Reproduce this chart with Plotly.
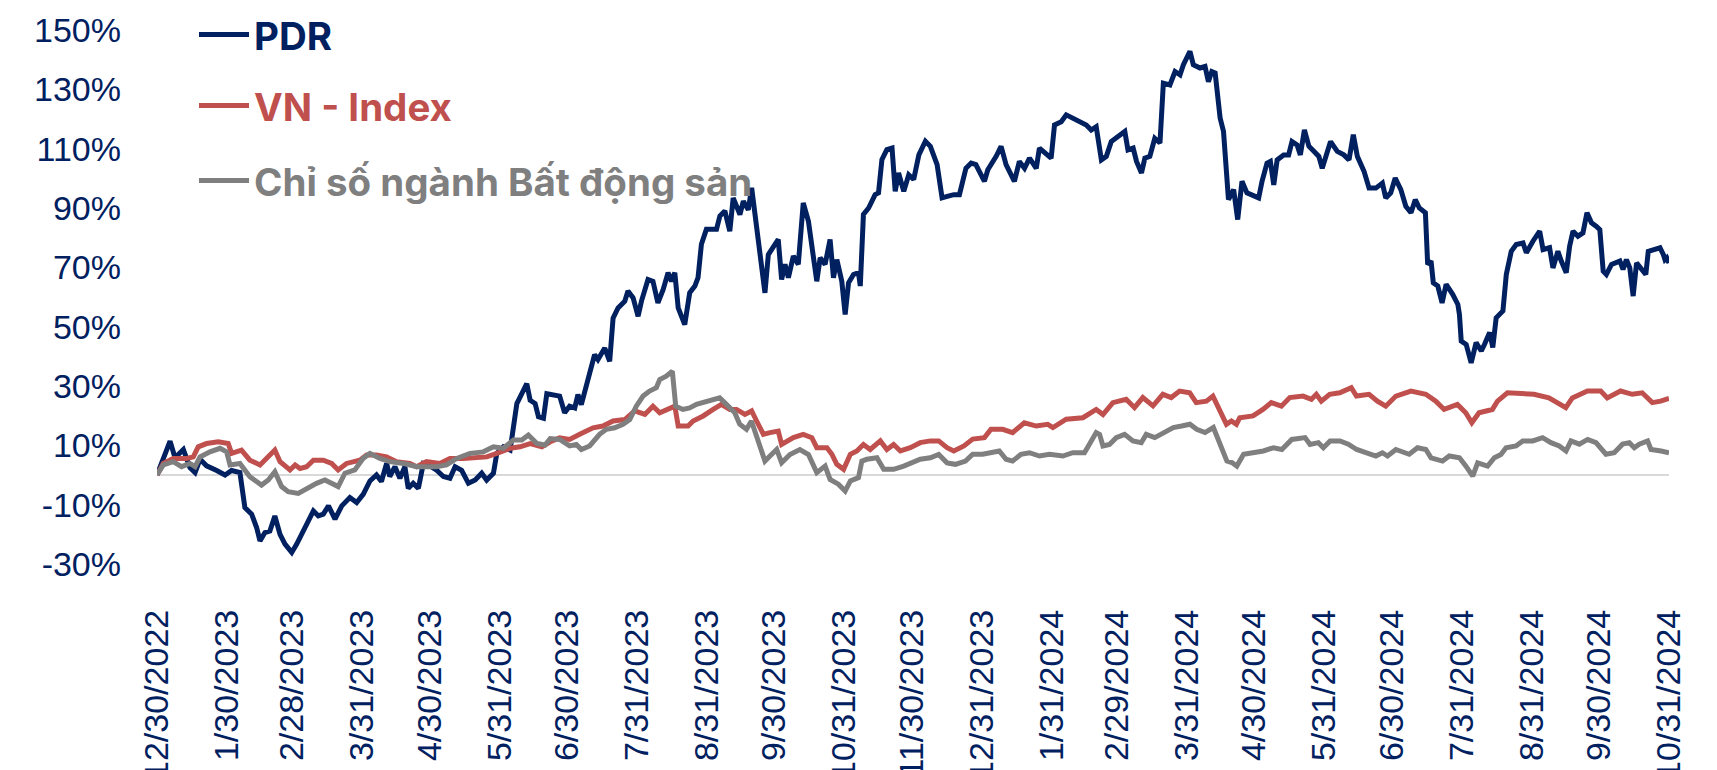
import pandas as pd
import plotly.graph_objects as go

START = pd.Timestamp("2022-12-30")

# days since 2022-12-30 and cumulative return (%)
pdr_day = [0, 5.8, 8.0, 11.7, 14.6, 16.9, 19.1, 22, 26.5, 30.2, 33.1, 36.8, 39, 42, 44.2, 45.7, 47.9, 50.1, 52.3, 54.6,
           56.8, 59.8, 62, 64.9, 67.1, 69.4, 71.6, 73.8, 76.1, 79, 82, 85.6, 88.6, 91.5, 94.5, 97.4, 99.6, 101.9, 103.3,
           105.6, 107.8, 110, 111.5, 113.7, 116, 118.2, 120.4, 124.1, 127.1, 130, 132.3, 135.2, 138.2, 141.2, 144.1,
           146.3, 149.3, 150.8, 153.7, 156.7, 158.2, 159.7, 161.9, 164.1, 165.6, 167.8, 169.3, 171.5, 173, 176.7,
           178.7, 180.9, 183.1, 185.4, 186.8, 188.3, 190.5, 192.8, 194.2, 195.7, 198.7, 200.9, 202.4, 204.6, 207.6, 209,
           211.3, 213.5, 215, 217.9, 220.1, 222.3, 224.6, 226.8, 228.3, 229.8, 231.3, 234.2, 236.4, 238.7, 240.1, 241.6,
           243.8, 248.3, 249.8, 252, 254.2, 255.7, 258.7, 260.2, 262.4, 263.9, 265.3, 266.8, 268.3, 269.8, 271.3, 273.5,
           275.7, 277.2, 278.7, 280.2, 282.4, 284.6, 286.8, 289.1, 291.3, 292.8, 294.3, 296.5, 298.7, 300.2, 301.7,
           303.9, 305.4, 306.9, 309.1, 311.3, 312.1, 313.5, 315.8, 318.7, 320.2, 321.7, 323.9, 326.2, 327.6, 329.1,
           331.4, 333.6, 335.8, 338.1, 341, 343.2, 346.2, 348.4, 350.7, 353.6, 356.1, 359, 361.3, 363.4, 367.2, 368.7,
           372.4, 374.6, 376.8, 380.5, 382.7, 385, 387.2, 390.2, 391.6, 393.9, 396.8, 398.3, 401.3, 403.5, 407.9, 412.4,
           414.6, 416.8, 419.1, 421.3, 423.5, 425.7, 428, 429.5, 430.9, 433.2, 434.7, 436.9, 438.4, 440.6, 442.8, 445.1,
           446.6, 449.5, 451.8, 454, 455.5, 458.4, 459.9, 462.9, 465.1, 466.6, 468.1, 469.6, 471.8, 473.3, 475.5, 477.8,
           479.6, 481.5, 483.7, 488.9, 490.4, 492.6, 494.1, 495.6, 497.1, 500, 502.2, 503.7, 505.9, 507.4, 509.2, 511.2,
           513.4, 515.6, 517.1, 519.3, 520.8, 523.8, 526.7, 529, 530.9, 532.7, 535.7, 537.9, 540.9, 543.8, 545.3, 547.5,
           549.5, 552, 554.2, 556.5, 558.4, 560.2, 562.9, 563.9, 565.4, 566.4, 568.4, 570.3, 572.1, 575, 577.3, 578,
           578.8, 581, 583.2, 585.4, 587.7, 589.1, 591.4, 592.8, 594.3, 597.3, 598.8, 601, 603.2, 606.2, 607.7, 610.6,
           613.6, 615.1, 618, 619.5, 621.7, 623.2, 625.4, 626.9, 628.4, 630.6, 632.8, 634.6, 636.6, 638.8, 640.3, 641.8,
           643.2, 645.5, 649.2, 650.6, 652.1, 653.6, 655.1, 656.6, 658.8, 660.7, 661.8, 664, 667, 668.5, 669.2, 670, 671]
pdr_val = [0, 11.4, 5.8, 8.6, 2.5, 0.8, 5.3, 3.1, 1.5, 0, 1.5, 0.8, -11, -13.2, -17.7, -22.2, -19.4, -18.9, -13.8, -20,
           -23.3, -26.1, -23.3, -18.9, -16.1, -12.1, -13.8, -13.2, -10.4, -14.9, -10.4, -7.6, -9.3, -6.5, -2, 0, -2.2, 3.9,
           -0.5, 2.8, -1.1, 2.8, -4.5, -2.8, -4.5, 3.9, 3.4, 1.6, -0.5, -1.1, 2.8, 1.6, -2.8, -1.7, 0.6, -1.7, 0.6, 7.3,
           9.5, 8.4, 16.2, 24.1, 27.4, 30.8, 25.2, 24.1, 19.6, 19.1, 27.4, 26.9,
           26.6, 21, 23.2, 22.6, 27.1, 23.7, 30.5, 36.1, 40.6, 38.9, 42.8, 38.3, 52.9, 56.3, 58.6, 62, 59.7, 53.5, 58.6,
           65.9, 65.3, 58, 62.5, 68.2, 65.3, 68.2, 56.3, 50.7, 61.4, 63.7, 66.5, 77.8, 82.8, 82.8, 87.3, 89, 82.2, 93.4,
           87.8, 92.3, 89.4, 96.8, 87.8, 78.8, 69.8, 61.4, 74.3, 76.6, 79.4, 65.9, 71, 66.5, 73.8, 71, 91.7, 85.5, 74.3,
           65.3, 73.2, 71, 79.4, 66.5, 72.6, 65.3, 54.1, 64.8, 67.6, 68.2, 63.7, 87.8, 90, 94.5, 95.1, 106.3, 109.7,
           110.2, 95.6, 101.8, 95.6, 101.2, 99.6, 107.9, 112.5, 110.8, 104.6, 93.4, 93.9, 94.5, 94.5, 103.4, 105.1, 104.6,
           99, 102.9, 107.4, 110.8, 104.6, 99, 105.7, 103.4, 106.8, 103.4, 110.2, 108.5, 106.8, 118, 119.1, 121.4, 119.7,
           118, 116.3, 117.4, 106.2, 107.4, 112.4, 113.5, 114.7, 115.8, 109.6, 110.2, 105.7, 101.8, 106.8, 107.4, 113.5,
           111.9, 132.1, 131.5, 136, 134.9, 138.3, 142.8, 138.3, 137.2, 137.7, 132.6, 136, 135.5, 120.3, 115.8, 92.8,
           96.2, 86.1, 99, 95.1, 93.4, 99, 105.1, 105.7, 97.8, 106.2, 107.9, 107.9, 112.4, 111.3, 107.9, 116.3, 110.8,
           109.1, 107.4, 103.4, 109.6, 112.4, 109.1, 107.9, 106.2, 114.7, 107.4, 102.3, 96.7, 96.7, 98.4, 93.4, 95.1,
           100.1, 96.2, 90.6, 88.4, 92.8, 90, 88.4, 71, 72.1, 64.8, 63.7, 58, 64.3, 60.9, 57.5, 54.1, 45.1, 44, 37.8,
           44.6, 41.8, 44, 48, 43, 53, 55.3, 67.6, 75.4, 77.7, 78.2, 74.9, 78.8, 82.2, 76, 76.6, 69.8, 75.4, 72.1, 68.2,
           77.1, 82.2, 80.5, 81.6, 88.4, 85, 83.8, 82.7, 68.7, 67.6, 71, 72.1, 69.3, 72.6, 69.8, 60.3, 71.5, 69.3, 67.6,
           75.4, 76, 76.6, 74.3, 72.6, 73.2, 71.5]

vni_day = [0, 2.8, 7.2, 13.2, 16.1, 18.3, 22, 27.2, 31.6, 33.1, 37.5, 41.2, 45.7, 48.6, 52.3, 54.6, 59, 61.3, 63.5, 66.4,
           69.4, 73.8, 77.5, 80.4, 84.1, 90, 93, 97.4, 101.9, 106.3, 112.2, 115.2, 119.6, 125.5, 130, 135.9, 141.8,
           146.3, 150.8, 156.7, 161.1, 165.6, 170.8, 174.5, 178.7, 183.1, 187.6, 193.5, 197.9, 202.4, 207.6, 212,
           216.5, 220.1, 223.1, 227.6, 229.8, 231.3, 235.7, 237.9, 242.4, 246.8, 250.5, 254.2, 257.2, 260.9, 263.9,
           266.1, 269.1, 272, 275.7, 277.2, 282.4, 286.8, 290.6, 292.8, 297.3, 299.5, 301.7, 304.7, 307.7, 310.6,
           313.5, 316.5, 321, 323.9, 326.9, 329.9, 334.3, 338.7, 343.2, 346.9, 350.6, 353.6, 358.1, 362, 367.2, 370.1,
           375.3, 379.7, 384.9, 390.2, 395.3, 397.6, 403.5, 410.9, 416.8, 419.8, 424.2, 430.1, 433.8, 437.5, 442,
           446.4, 450.1, 453.8, 458.3, 461.2, 465.7, 468.6, 471.6, 474.6, 476.8, 479, 480.5, 486.4, 490.8, 494.5, 499,
           502.7, 508.6, 512.3, 514.5, 516.7, 520.4, 524.9, 530, 532.3, 537.9, 541.6, 545.3, 549.8, 556.5, 563.1,
           567.5, 571.2, 577.1, 580.8, 583.5, 586.7, 592.6, 594.9, 599.3, 605.9, 611.1, 617.7, 622.2, 625.2, 628.1,
           634.8, 640.7, 643.6, 649.5, 654.7, 659.1, 663.6, 667.3, 670.7, 671]
vni_val = [0, 3.9, 5.6, 5.6, 6.1, 9.5, 10.6, 11.2, 10.6, 7.3, 8.4, 5, 3.4, 5.6, 8.4, 4.5, 1.7, 3.4, 2.2, 2.8, 5, 5, 3.9,
           1.7, 3.9, 5, 6.7, 6.7, 6.1, 4.5, 3.9, 2.8, 4.5, 3.9, 5.6, 5.6, 6.1, 6.1, 7.3, 9, 9.5, 10.6, 9.5, 11.2, 12.5, 12,
           13.7, 15.9, 16.5, 18.2, 18.7, 21.6, 20.4, 23.2, 21, 22.6, 23.2, 16.5, 16.5, 18.2, 19.9, 22.1, 23.8, 22.1,
           22.1, 20.4, 21.6, 18.2, 13.7, 14.3, 14.8, 10.3, 12.6, 13.7, 12.6, 9.2, 9.2, 7, 3.6, 1.9, 7, 8.1, 10.3, 8.6,
           11.5, 8.6, 10.3, 8.1, 9.2, 10.9, 11.5, 11.5, 9.2, 8.1, 9.8, 12.1, 12.6, 15.4, 15.4, 14.3, 17.6, 16.5, 17.1,
           16, 18.8, 19.3, 22.1, 20.4, 24.4, 25.5, 22.7, 26.1, 23.3, 27.2, 26.1, 28.3, 27.7, 24.4, 24.9, 26.6, 21.6,
           17.1, 18.2, 17.1, 19.3, 19.9, 22.1, 24.4, 23.2, 26.1, 26.6, 25.5, 27.2, 24.9, 27.2, 27.7, 29.4, 26.6, 27.2,
           24.9, 23.2, 26.6, 28.3, 27.2, 24.9, 22.1, 23.8, 21, 17.6, 21, 22.1, 24.9, 27.7, 27.2, 27.2, 26, 23.8, 22.7,
           26, 28.3, 28.3, 26, 28.3, 27.2, 27.7, 24.4, 24.9, 25.5, 25.8]

bds_day = [0, 2.8, 7.2, 10.9, 14.6, 16.9, 19.1, 23.5, 28, 30.9, 32.4, 36.8, 41.2, 46.4, 49.4, 52.3, 55.3, 58.2, 62.7,
           66.4, 70.8, 74.5, 77.5, 80.4, 83.4, 87.8, 91.5, 94.5, 98.9, 103.3, 109.3, 115.2, 118.2, 124.1, 128.5, 133,
           138.9, 144.8, 149.3, 153.7, 158.2, 161.9, 164.8, 168.6, 172.2, 174.5, 178.7, 183.1, 186.1, 188.3, 192,
           196.4, 199.4, 203.1, 206.8, 209.8, 212.7, 215.7, 218.6, 221.6, 223.1, 226, 228.7, 230.2, 233.4, 236.4,
           239.4, 243.8, 249.7, 252.7, 256.4, 258.6, 261.6, 263.8, 265.3, 267.5, 269.8, 272.7, 275, 277.2, 280.9,
           285.3, 289.1, 292.8, 296.5, 298.7, 302.4, 305.4, 307.7, 311.3, 312.8, 315, 319.5, 322.5, 326.9, 331.4, 335,
           338.7, 343.2, 346.9, 350.6, 354.3, 358.8, 362, 366.4, 370.8, 373.8, 376.8, 379.7, 383.4, 387.2, 391.6,
           396.1, 402, 406.4, 411.6, 414.6, 416.8, 418.3, 419.8, 422.7, 425.7, 429.4, 433.1, 436.8, 439, 442.8, 446.6,
           451, 454.7, 458.4, 461.4, 465.1, 468.8, 471.8, 474.8, 477, 479.2, 482.2, 486.6, 491, 495.5, 499.2, 503.6,
           509.5, 511.7, 515.4, 517.6, 520.6, 525, 528.7, 532.4, 537.2, 540.9, 543.8, 546.1, 549.8, 555.7, 559.4,
           563.1, 565.4, 570.5, 573.5, 578, 580.9, 583.9, 586.1, 590.5, 593.5, 596.4, 598.7, 603.1, 606.1, 610.5,
           614.9, 618.6, 622.3, 625.3, 627.5, 631.2, 634.9, 638.6, 643, 646.7, 650.4, 653.4, 655.6, 657.8, 661.5, 663,
           667.5, 671]
bds_val = [0, 3.4, 4.5, 2.8, 3.9, 2.8, 6.1, 7.8, 9, 7.8, 3.4, 3.9, -0.6, -3.4, -1.7, 1.1, -3.9, -5.6, -6.2, -4.5, -2.8,
           -1.7, -2.8, -3.9, 0.6, 1.7, 5.6, 7.3, 5.6, 4.5, 3.9, 2.8, 2.8, 2.8, 3.4, 5.6, 7.3, 7.8, 9.5, 9, 11.8, 11.8,
           13.5, 10.6, 10.1, 12.3, 12, 9.8, 10.3, 8.6, 9.8, 13.7, 15.4, 15.9, 17.1, 18.7, 23.2, 26.6, 28.3, 29.4, 32.2,
           33.3, 35, 23.2, 22.1, 22.6, 23.8, 24.9, 26, 23.8, 21, 17.1, 15.4, 18.2, 14.8, 10.3, 4.7, 6.9, 8.6, 4.1, 6.9,
           8.6, 6.9, 0.8, 3, -1.5, -3.1, -5.4, -2, -0.9, 4.7, 5.3, 5.8, 1.9, 1.9, 3, 4.1, 5.3, 5.8, 6.9, 4.1, 3.6, 4.7,
           7, 7, 7.5, 8.1, 5.3, 4.7, 7, 7.5, 6.4, 7, 6.4, 7.5, 7.5, 11.4, 14.3, 13.7, 9.8, 10.3, 12.6, 13.7, 11.5,
           10.9, 13.7, 12.6, 14.3, 16, 16.5, 17.1, 15.4, 14.3, 16, 10.4, 4.7, 4.2, 3, 7, 7.5, 8.1, 9.2, 8.6, 12, 12.6,
           10.3, 10.9, 9.2, 11.5, 11.5, 10.4, 8.6, 7.5, 6.4, 7.5, 6.4, 8.6, 7, 9.2, 8.6, 5.8, 4.7, 6.4, 5.8, 3, -0.4,
           4.1, 3, 5.8, 6.9, 9.2, 9.8, 11.5, 11.5, 12.6, 10.9, 9.8, 8.1, 11.5, 10.4, 12, 10.9, 7, 7.5, 10.4, 10.9, 9.2,
           10.4, 11.5, 8.6, 8.1, 7.5]

tick_dates = ["2022-12-30", "2023-01-30", "2023-02-28", "2023-03-31", "2023-04-30", "2023-05-31", "2023-06-30",
              "2023-07-31", "2023-08-31", "2023-09-30", "2023-10-31", "2023-11-30", "2023-12-31", "2024-01-31",
              "2024-02-29", "2024-03-31", "2024-04-30", "2024-05-31", "2024-06-30", "2024-07-31", "2024-08-31",
              "2024-09-30", "2024-10-31"]
tick_text = ["12/30/2022", "1/30/2023", "2/28/2023", "3/31/2023", "4/30/2023", "5/31/2023", "6/30/2023",
             "7/31/2023", "8/31/2023", "9/30/2023", "10/31/2023", "11/30/2023", "12/31/2023", "1/31/2024",
             "2/29/2024", "3/31/2024", "4/30/2024", "5/31/2024", "6/30/2024", "7/31/2024", "8/31/2024",
             "9/30/2024", "10/31/2024"]
y_ticks = [-30, -10, 10, 30, 50, 70, 90, 110, 130, 150]

names = ["PDR", "VN - Index", "Chỉ số ngành Bất động sản"]
colors = ["#002060", "#C0504D", "#7F7F7F"]


def to_dates(days):
    return [START + pd.Timedelta(days=d) for d in days]


fig = go.Figure()
series = [(pdr_day, pdr_val), (vni_day, vni_val), (bds_day, bds_val)]
legends = ["legend", "legend2", "legend3"]
for (days, vals), name, col, lg in zip(series, names, colors, legends):
    fig.add_trace(go.Scatter(x=to_dates(days), y=vals, mode="lines", name=name,
                             line=dict(color=col, width=5), legend=lg))

# page body has an 8px margin, so the figure is sized to fit the window
OFF = 8
W, H = 1717 - OFF, 770 - OFF
ML, MT = 157 - OFF, 30 - OFF
MR = W - (1669 - OFF)
MB = H - (564 - OFF)
pw, ph = W - ML - MR, H - MT - MB


def leg(ypix, col):
    return dict(x=(194 - OFF - ML) / pw, xanchor="left",
                y=1 - (ypix - OFF - MT) / ph, yanchor="middle",
                bgcolor="rgba(0,0,0,0)", borderwidth=0,
                font=dict(family="Inter, Roboto, sans-serif", size=38.5, color=col, weight="bold"),
                itemwidth=50)


tickfont = dict(family="Liberation Sans, Arial, sans-serif", size=34, color="#002060")

fig.update_layout(
    width=W, height=H,
    margin=dict(l=ML, r=MR, t=MT, b=MB, autoexpand=False),
    paper_bgcolor="white", plot_bgcolor="white",
    showlegend=True,
    legend=leg(35, colors[0]),
    legend2=leg(106, colors[1]),
    legend3=leg(181, colors[2]),
    xaxis=dict(type="date", range=[START, pd.Timestamp("2024-10-31")], automargin=False,
               tickvals=tick_dates, ticktext=tick_text, tickangle=-90,
               showgrid=False, zeroline=False, showline=False, ticks="",
               tickfont=tickfont, ticklabelstandoff=38),
    yaxis=dict(range=[-30, 150], tickvals=y_ticks, ticktext=[f"{v}%" for v in y_ticks], automargin=False,
               showgrid=False, zeroline=True, zerolinecolor="#D9D9D9", zerolinewidth=2,
               showline=False, ticks="", tickfont=tickfont, ticklabelstandoff=35),
)

fig.write_html("out.html")
